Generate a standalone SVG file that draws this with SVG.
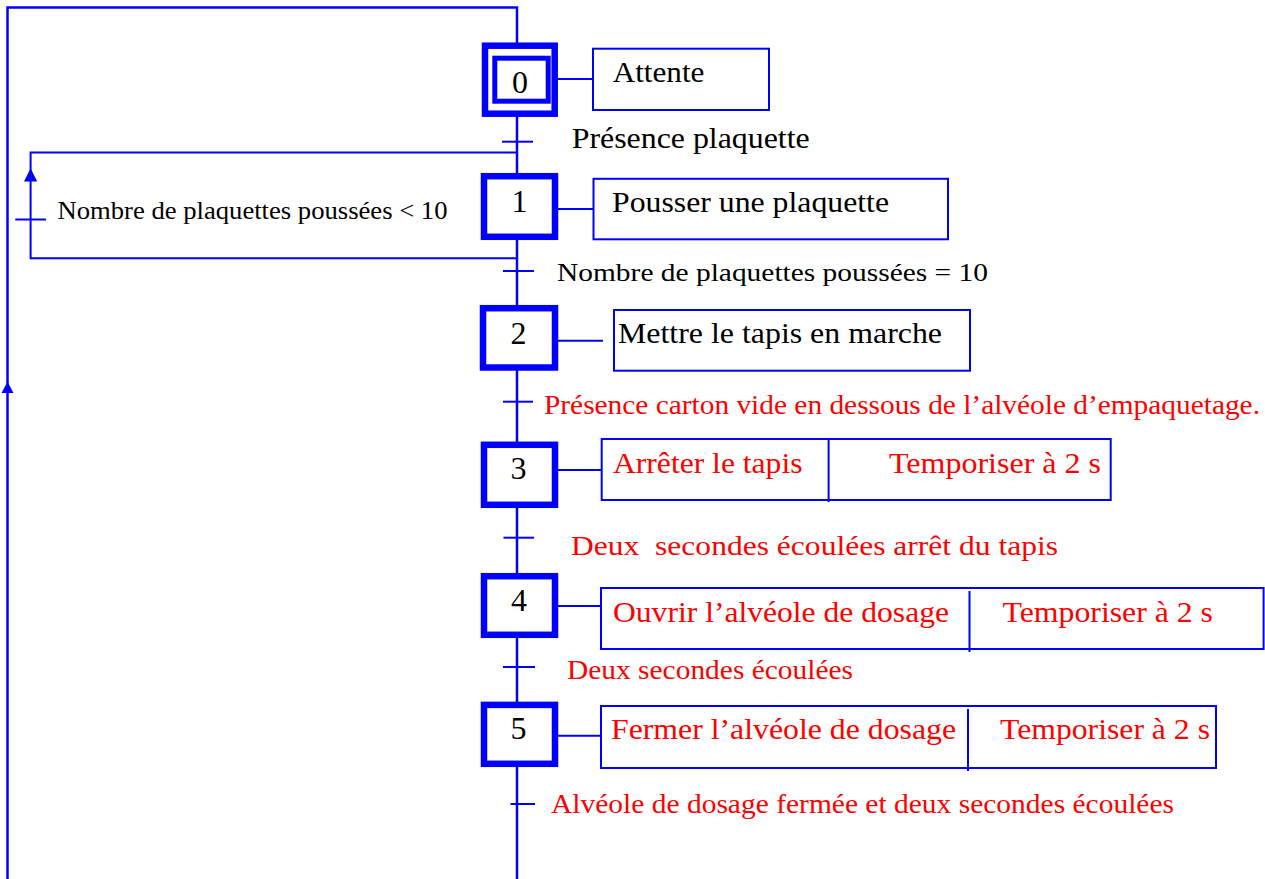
<svg xmlns="http://www.w3.org/2000/svg" width="1265" height="879" viewBox="0 0 1265 879">
<style>
.ln{stroke:#0000FF;stroke-width:2;fill:none}
.lnw{stroke:#0000FF;stroke-width:2.5;fill:none}
.step{stroke:#0000FF;stroke-width:6.5;fill:#fff}
.act{stroke:#0000FF;stroke-width:2;fill:#fff}
.num{font-family:"Liberation Serif","Times New Roman",serif;font-size:32px;fill:#000;text-anchor:middle}
.tb{font-family:"Liberation Serif","Times New Roman",serif;font-size:30px;fill:#000}
.tr{font-family:"Liberation Serif","Times New Roman",serif;font-size:30px;fill:#FF0000}
.sb{font-family:"Liberation Serif","Times New Roman",serif;font-size:25px;fill:#000}
.sr{font-family:"Liberation Serif","Times New Roman",serif;font-size:27px;fill:#FF0000}
.arr{fill:#0000FF}
</style>
<g id="connectors">
<polyline class="lnw" points="7.5,879 7.5,7.5 517,7.5 517,879"/>
<polygon class="arr" points="7.5,381.7 1.5,393 13.5,393"/>
<polyline class="ln" points="517,152.5 30.6,152.5 30.6,258.3 517,258.3"/>
<polygon class="arr" points="30.6,168.3 24,181.5 37.2,181.5"/>
<line class="ln" x1="15.3" y1="219.5" x2="46" y2="219.5"/>
<line class="ln" x1="502" y1="141.7" x2="533" y2="141.7"/>
<line class="ln" x1="503" y1="271" x2="534" y2="271"/>
<line class="ln" x1="503" y1="401.7" x2="533" y2="401.7"/>
<line class="ln" x1="503.5" y1="537.7" x2="534" y2="537.7"/>
<line class="ln" x1="503" y1="667" x2="535" y2="667"/>
<line class="ln" x1="510.5" y1="804" x2="535" y2="804"/>
<line class="ln" x1="557" y1="79" x2="593" y2="79"/>
<line class="ln" x1="557" y1="209" x2="593" y2="209"/>
<line class="ln" x1="557" y1="340.7" x2="603" y2="340.7"/>
<line class="ln" x1="557" y1="470" x2="601.7" y2="470"/>
<line class="ln" x1="557" y1="606" x2="601" y2="606"/>
<line class="ln" x1="557" y1="735.7" x2="601" y2="735.7"/>
</g>
<g id="step0">
<rect class="step" x="485" y="45.7" width="69.7" height="68"/>
<rect x="494.8" y="58.2" width="53.4" height="43" fill="#fff" stroke="#0000FF" stroke-width="5"/>
<text class="num" x="520" y="92.7">0</text>
</g>
<g id="action0">
<rect class="act" x="593" y="48.7" width="176" height="61.3"/>
<text class="tb" x="612.7" y="81.7" textLength="91.7" lengthAdjust="spacingAndGlyphs">Attente</text>
</g>
<g id="t0"><text class="tb" x="571.7" y="148.3" textLength="238" lengthAdjust="spacingAndGlyphs">Présence plaquette</text></g>
<g id="step1">
<rect class="step" x="484" y="176.2" width="71" height="60.6"/>
<text class="num" x="519.5" y="212">1</text>
</g>
<g id="action1">
<rect class="act" x="593.5" y="178.8" width="354.5" height="60.5"/>
<text class="tb" x="612" y="212" textLength="277" lengthAdjust="spacingAndGlyphs">Pousser une plaquette</text>
</g>
<g id="t1loop"><text class="sb" x="57.5" y="219" textLength="390" lengthAdjust="spacingAndGlyphs">Nombre de plaquettes poussées &lt; 10</text></g>
<g id="t1"><text class="sb" x="557" y="280.5" textLength="431" lengthAdjust="spacingAndGlyphs">Nombre de plaquettes poussées = 10</text></g>
<g id="step2">
<rect class="step" x="483" y="308.2" width="72" height="59.3"/>
<text class="num" x="518.5" y="343.5">2</text>
</g>
<g id="action2">
<rect class="act" x="614" y="310" width="356" height="60.7"/>
<text class="tb" x="618" y="343.3" textLength="324" lengthAdjust="spacingAndGlyphs">Mettre le tapis en marche</text>
</g>
<g id="t2"><text class="sr" x="544" y="414" textLength="716" lengthAdjust="spacingAndGlyphs">Présence carton vide en dessous de l’alvéole d’empaquetage.</text></g>
<g id="step3">
<rect class="step" x="484" y="444.8" width="71" height="60"/>
<text class="num" x="518.5" y="479">3</text>
</g>
<g id="action3">
<rect class="act" x="601.7" y="439" width="509" height="61"/>
<line class="ln" x1="828.6" y1="439" x2="828.6" y2="502"/>
<text class="tr" x="613" y="473" textLength="189.5" lengthAdjust="spacingAndGlyphs">Arrêter le tapis</text>
<text class="tr" x="889" y="473" textLength="212" lengthAdjust="spacingAndGlyphs">Temporiser à 2 s</text>
</g>
<g id="t3"><text class="sr" x="571" y="555" textLength="487" lengthAdjust="spacingAndGlyphs" xml:space="preserve">Deux  secondes écoulées arrêt du tapis</text></g>
<g id="step4">
<rect class="step" x="484" y="576.2" width="71" height="58.6"/>
<text class="num" x="519" y="610.5">4</text>
</g>
<g id="action4">
<rect class="act" x="601" y="588" width="662.6" height="61"/>
<line class="ln" x1="969.5" y1="591" x2="969.5" y2="652"/>
<text class="tr" x="613" y="622" textLength="336" lengthAdjust="spacingAndGlyphs">Ouvrir l’alvéole de dosage</text>
<text class="tr" x="1002.5" y="622" textLength="210.5" lengthAdjust="spacingAndGlyphs">Temporiser à 2 s</text>
</g>
<g id="t4"><text class="sr" x="567" y="679" textLength="286" lengthAdjust="spacingAndGlyphs">Deux secondes écoulées</text></g>
<g id="step5">
<rect class="step" x="484" y="704.9" width="71" height="58.9"/>
<text class="num" x="518.5" y="738.5">5</text>
</g>
<g id="action5">
<rect class="act" x="601" y="706" width="615" height="62"/>
<line class="ln" x1="968" y1="709" x2="968" y2="771"/>
<text class="tr" x="611" y="739" textLength="345" lengthAdjust="spacingAndGlyphs">Fermer l’alvéole de dosage</text>
<text class="tr" x="1000" y="739" textLength="210" lengthAdjust="spacingAndGlyphs">Temporiser à 2 s</text>
</g>
<g id="t5"><text class="sr" x="551" y="813.3" textLength="623" lengthAdjust="spacingAndGlyphs">Alvéole de dosage fermée et deux secondes écoulées</text></g>
</svg>
